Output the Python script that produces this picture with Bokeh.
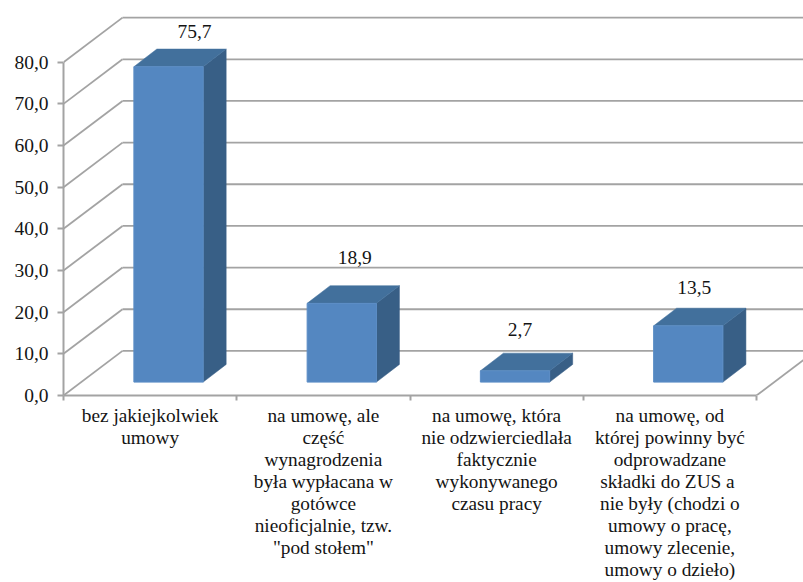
from bokeh.plotting import figure
from bokeh.embed import file_html
from bokeh.resources import INLINE
from bokeh.models import ColumnDataSource, LabelSet, LinearAxis, FixedTicker, Range1d

categories = [
    ["bez jakiejkolwiek", "umowy"],
    ["na umowę, ale", "część", "wynagrodzenia", "była wypłacana w", "gotówce", "nieoficjalnie, tzw.", "\"pod stołem\""],
    ["na umowę, która", "nie odzwierciedlała", "faktycznie", "wykonywanego", "czasu pracy"],
    ["na umowę, od", "której powinny być", "odprowadzane", "składki do ZUS  a", "nie były (chodzi o", "umowy o pracę,", "umowy zlecenie,", "umowy o dzieło)"],
]
values = [75.7, 18.9, 2.7, 13.5]
value_labels = ["75,7", "18,9", "2,7", "13,5"]
y_ticks = [0, 10, 20, 30, 40, 50, 60, 70, 80]
y_tick_labels = ["0,0", "10,0", "20,0", "30,0", "40,0", "50,0", "60,0", "70,0", "80,0"]

W, H = 803, 582
LEFT, BOTTOM = 63, 187
PX_X = 173.25
PX_Y = 4.166
XMAX = (W - LEFT) / PX_X
YMAX = (H - BOTTOM) / PX_Y
WALL_DX, WALL_DY = 59 / PX_X, 44.6 / PX_Y
BASE_DX, BASE_DY = 18.4 / PX_X, 13.4 / PX_Y
BAR_DX, BAR_DY = 23 / PX_X, 17.7 / PX_Y
BAR_W = 0.4
GRAY = "#a3a3a3"
FONT = "Liberation Serif"
INK = "#141414"

p = figure(width=W, height=H, output_backend="svg", toolbar_location=None,
           x_range=Range1d(0, XMAX), y_range=Range1d(0, YMAX),
           x_axis_type=None, y_axis_type=None,
           frame_width=W - LEFT, frame_height=H - BOTTOM,
           min_border_left=LEFT, min_border_right=0, min_border_top=0, min_border_bottom=BOTTOM)
p.outline_line_color = None
p.grid.visible = False

yax = LinearAxis(ticker=FixedTicker(ticks=y_ticks), bounds=(0, 80),
                 major_label_overrides=dict(zip(y_ticks, y_tick_labels)))
yax.axis_line_color = GRAY
yax.axis_line_width = 2
yax.major_tick_line_color = GRAY
yax.major_tick_line_width = 2
yax.major_tick_in = 0
yax.major_tick_out = 6
yax.minor_tick_line_color = None
yax.major_label_text_font = FONT
yax.major_label_text_font_size = "19.5px"
yax.major_label_text_color = INK
yax.major_label_standoff = 9
p.add_layout(yax, "left")

n = len(values)
xax = LinearAxis(ticker=FixedTicker(ticks=list(range(n + 1))), bounds=(0, n),
                 major_label_overrides={i: "" for i in range(n + 1)})
xax.axis_line_color = GRAY
xax.axis_line_width = 2
xax.major_tick_line_color = GRAY
xax.major_tick_line_width = 2
xax.major_tick_in = 0
xax.major_tick_out = 5
xax.minor_tick_line_color = None
xax.major_label_standoff = 0
p.add_layout(xax, "below")

# one stacked axis per text line, so that the line spacing can be set by the standoff
cat_ticks = [i + 0.5 for i in range(n)]
for j in range(max(len(c) for c in categories)):
    overrides = {t: (c[j] if j < len(c) else "") for t, c in zip(cat_ticks, categories)}
    cax = LinearAxis(ticker=FixedTicker(ticks=cat_ticks), major_label_overrides=overrides)
    cax.axis_line_color = None
    cax.major_tick_line_color = None
    cax.minor_tick_line_color = None
    cax.major_tick_out = 0
    cax.major_tick_in = 0
    cax.major_label_standoff = 4 if j == 0 else -2
    cax.major_label_text_font = FONT
    cax.major_label_text_font_size = "19.3px"
    cax.major_label_text_color = INK
    p.add_layout(cax, "below")

# walls and floor
p.segment(x0=[0] * len(y_ticks), y0=y_ticks, x1=[WALL_DX] * len(y_ticks),
          y1=[t + WALL_DY for t in y_ticks], line_color=GRAY, line_width=1.8)
p.segment(x0=[WALL_DX] * len(y_ticks), y0=[t + WALL_DY for t in y_ticks], x1=[XMAX] * len(y_ticks),
          y1=[t + WALL_DY for t in y_ticks], line_color=GRAY, line_width=1.8)
p.segment(x0=[n], y0=[0], x1=[n + WALL_DX], y1=[WALL_DY], line_color=GRAY, line_width=1.8)

# bars
front_xs, front_ys, top_xs, top_ys, side_xs, side_ys = [], [], [], [], [], []
for i, v in enumerate(values):
    x0 = i + 0.5 - BAR_W / 2 + BASE_DX
    x1 = x0 + BAR_W
    y0 = BASE_DY
    y1 = BASE_DY + v
    front_xs.append([x0, x1, x1, x0])
    front_ys.append([y0, y0, y1, y1])
    top_xs.append([x0, x1, x1 + BAR_DX, x0 + BAR_DX])
    top_ys.append([y1, y1, y1 + BAR_DY, y1 + BAR_DY])
    side_xs.append([x1, x1 + BAR_DX, x1 + BAR_DX, x1])
    side_ys.append([y0, y0 + BAR_DY, y1 + BAR_DY, y1])
p.patches(side_xs, side_ys, fill_color="#385f86", line_color="#385f86", line_width=0.5)
p.patches(top_xs, top_ys, fill_color="#42709c", line_color="#42709c", line_width=0.5)
p.patches(front_xs, front_ys, fill_color="#5487c1", line_color="#5b8dc6", line_width=1)

# value labels
label_dx = [26, 13, 5, 6]
label_dy = [11, 22, 17, 14]
lab = ColumnDataSource(dict(
    x=[i + 0.5 + BASE_DX for i in range(n)],
    y=[BASE_DY + v + BAR_DY for v in values],
    t=value_labels, xo=label_dx, yo=label_dy))
p.add_layout(LabelSet(x="x", y="y", text="t", source=lab, x_offset="xo", y_offset="yo",
                      text_align="center", text_baseline="bottom",
                      text_font=FONT, text_font_size="19.5px", text_color=INK))

open("out.html", "w").write(file_html(p, INLINE))
